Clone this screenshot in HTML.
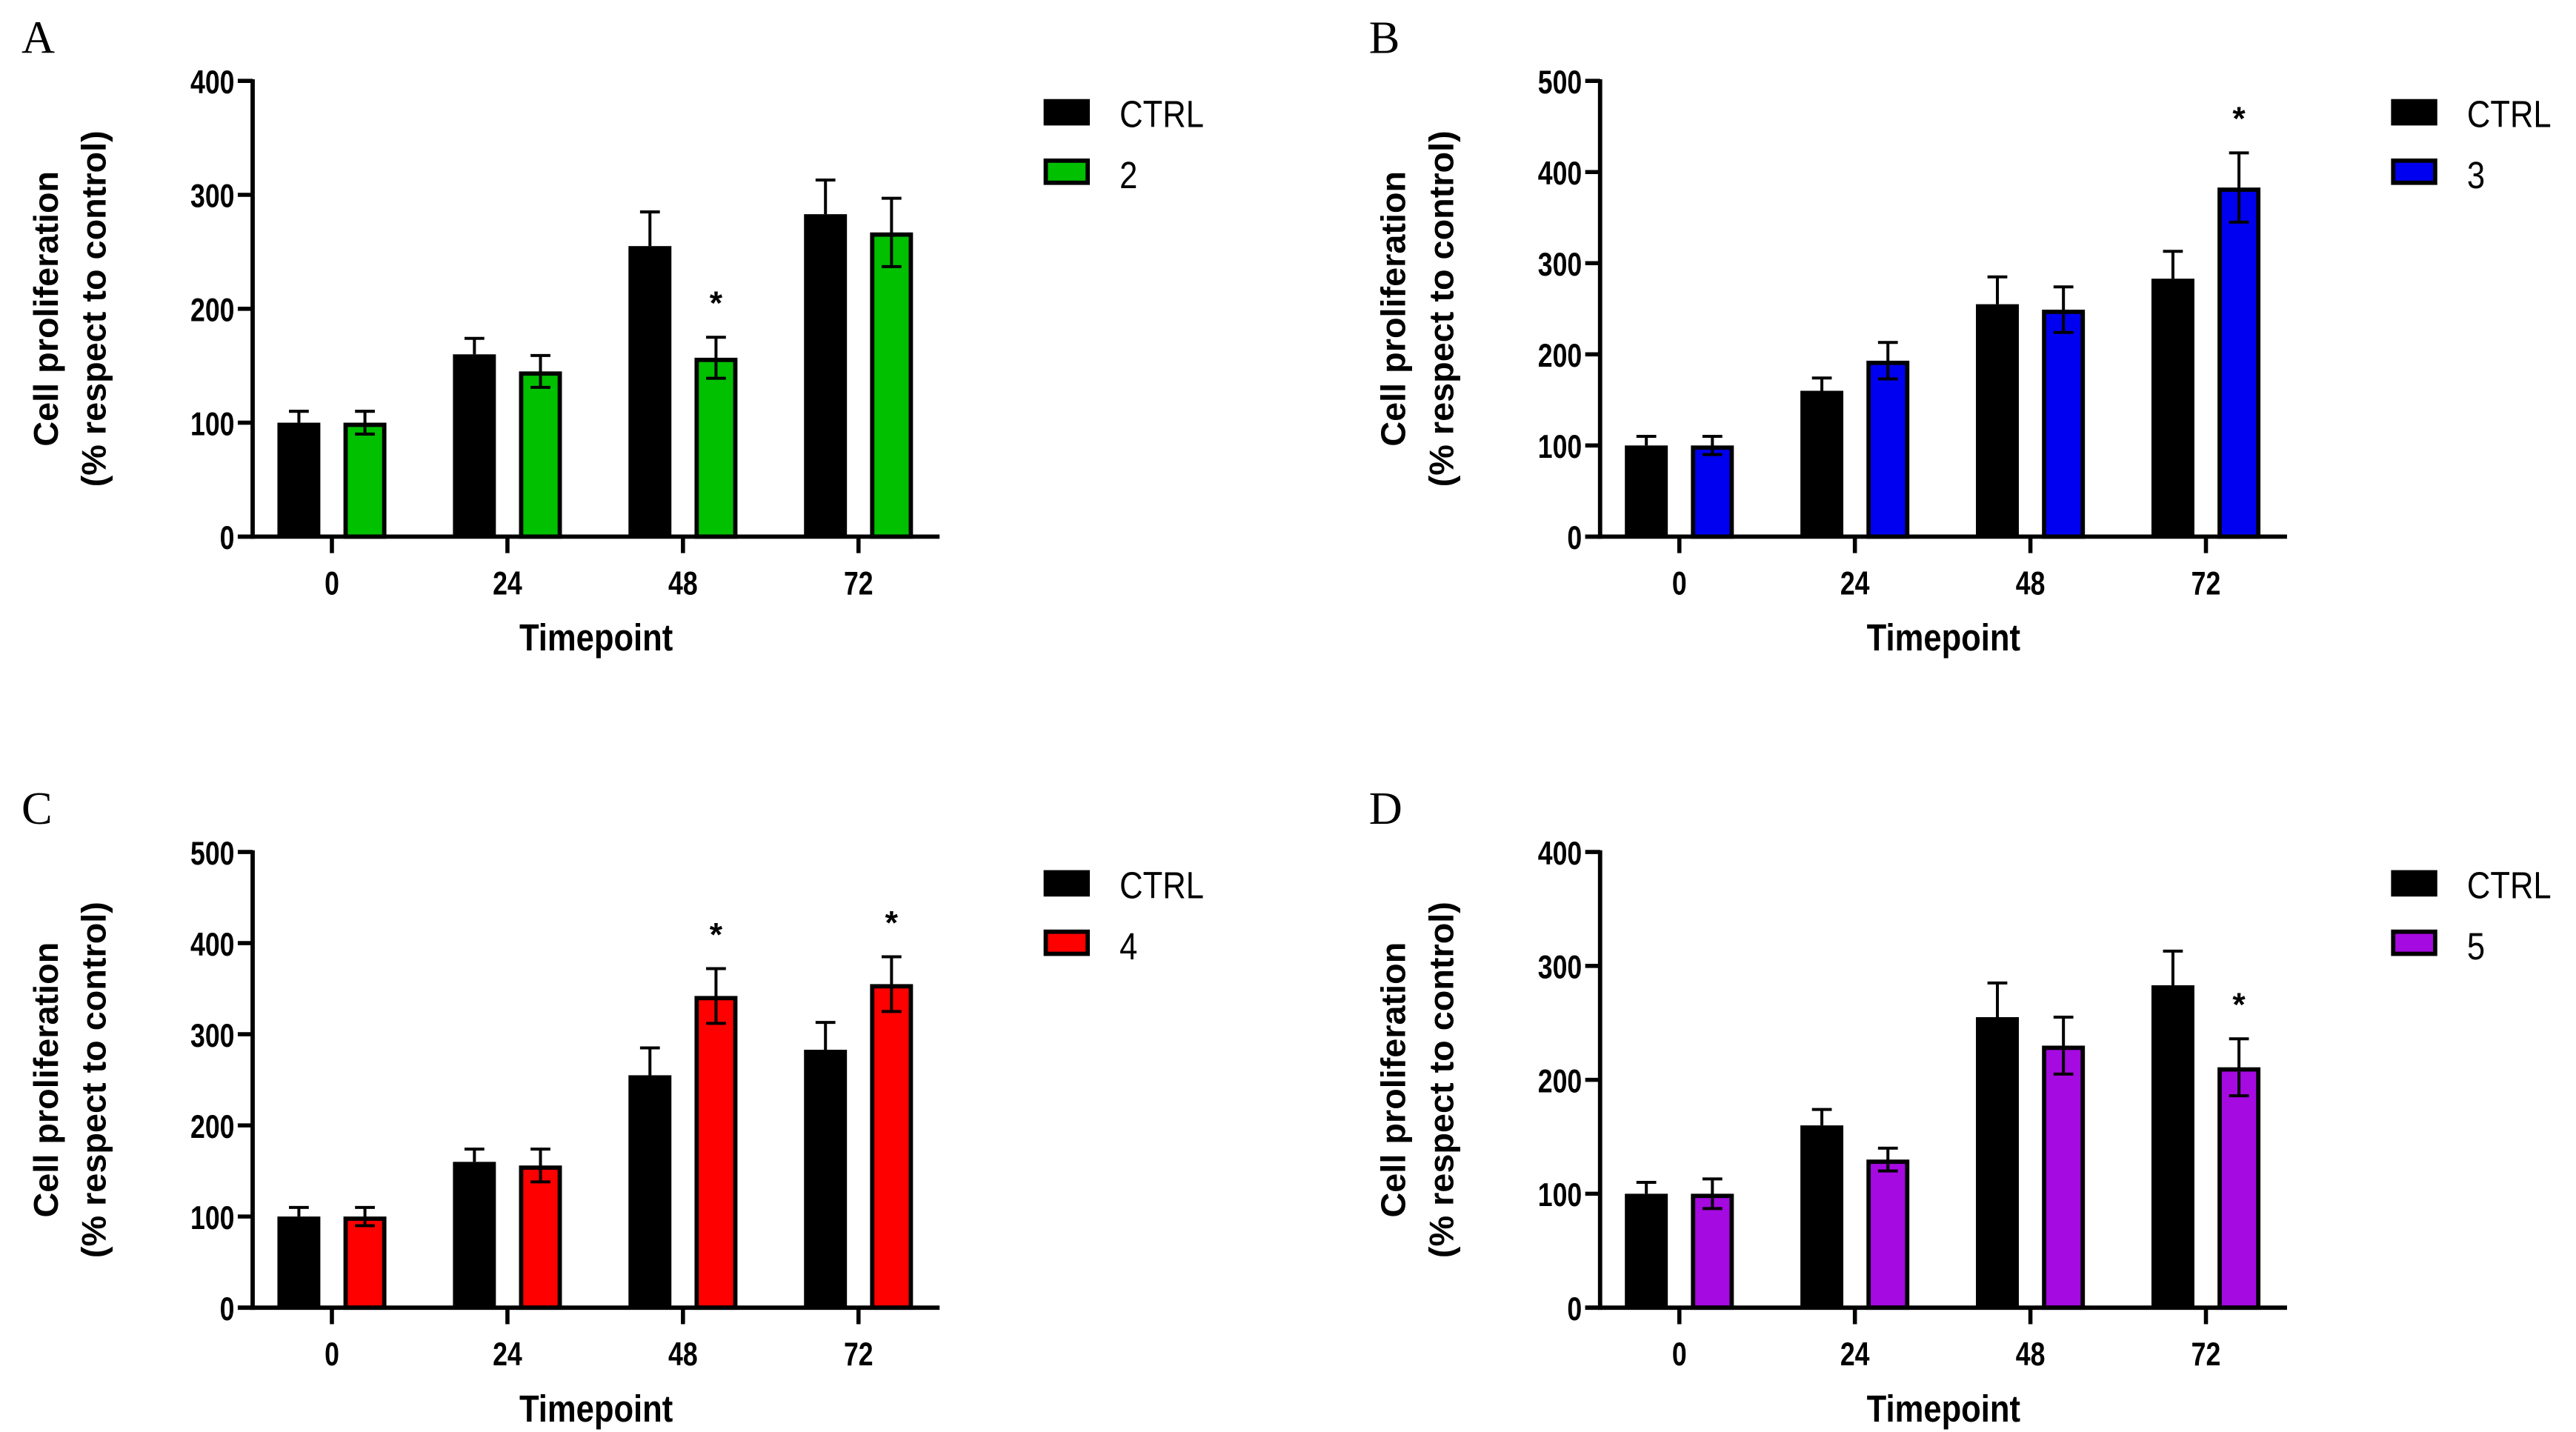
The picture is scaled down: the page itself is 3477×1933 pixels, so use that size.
<!DOCTYPE html>
<html><head><meta charset="utf-8"><style>
html,body{margin:0;padding:0;background:#fff;}
svg{display:block;}
.tick{font-family:"Liberation Sans",sans-serif;font-weight:bold;font-size:20px;}
.ytitle{font-family:"Liberation Sans",sans-serif;font-weight:bold;font-size:21px;}
.xtitle{font-family:"Liberation Sans",sans-serif;font-weight:bold;font-size:23px;}
.leg{font-family:"Liberation Sans",sans-serif;font-size:23px;}
.plabel{font-family:"Liberation Serif",serif;font-size:28px;}
</style></head><body>
<svg id="fig" width="3477" height="1933" viewBox="0 0 1560 867.3" preserveAspectRatio="none" xmlns="http://www.w3.org/2000/svg"></svg>
<script>
const categories = ["0","24","48","72"];
const ctrlValues = [100,160,255,283];
const ctrlErrors = [10,14,30,30];
const treatA = [100,145,157,267];
const errA = [10,14,18,30];
const treatB = [100,193,249,383];
const errB = [10,20,25,38];
const treatC = [100,156,342,355];
const errC = [10,18,30,30];
const treatD = [100,130,230,211];
const errD = [13,10,25,25];
const starsA = [2];
const starsB = [3];
const starsC = [2,3];
const starsD = [3];
const ticksA = [0,100,200,300,400];
const ticksB = [0,100,200,300,400,500];

const NS="http://www.w3.org/2000/svg";
const svg=document.getElementById('fig');
function mk(tag,attrs,parent,text){const e=document.createElementNS(NS,tag);for(const k in attrs)e.setAttribute(k,attrs[k]);if(text!==undefined)e.textContent=text;(parent||svg).appendChild(e);return e;}
function ntext(x,y,anchor,cls,parent,txt,sx){return mk('text',{transform:`translate(${x},${y}) scale(${sx||0.8},1)`,'text-anchor':anchor,class:cls},parent,txt);}

const panels=[
 {id:'a',letter:'A',ox:0,oy:0,vals:treatA,errs:errA,stars:starsA,ticks:ticksA,color:'#00c000',name:'2'},
 {id:'b',letter:'B',ox:816,oy:0,vals:treatB,errs:errB,stars:starsB,ticks:ticksB,color:'#0000f0',name:'3'},
 {id:'c',letter:'C',ox:0,oy:467,vals:treatC,errs:errC,stars:starsC,ticks:ticksB,color:'#ff0000',name:'4'},
 {id:'d',letter:'D',ox:816,oy:467,vals:treatD,errs:errD,stars:starsD,ticks:ticksA,color:'#a50ae0',name:'5'}
];
panels.forEach(p=>{
 const g=mk('g',{transform:`translate(${p.ox},${p.oy})`});
 
 
 const x0=153,x1=569,yTop=49,yZero=325;
 const ymax=p.ticks[p.ticks.length-1];
 const y=v=>yZero-(v/ymax)*(yZero-yTop);
 const xc=i=>201+106.3*i;
 const lab=mk('text',{x:13,y:32,class:'plabel'},g,p.letter);
 
 
 categories.forEach((c,i)=>{
  const cx=xc(i);
  const yb=y(ctrlValues[i]);
  const r1=mk('rect',{x:cx-33,y:yb,width:26,height:yZero-yb,fill:'#000'},g);
  
  
  const ye=y(ctrlValues[i]+ctrlErrors[i]);
  mk('line',{x1:cx-20,x2:cx-20,y1:yb,y2:ye,stroke:'#000','stroke-width':1.8},g);
  mk('line',{x1:cx-26,x2:cx-14,y1:ye,y2:ye,stroke:'#000','stroke-width':1.8},g);
  const yt=y(p.vals[i]);
  const r2=mk('rect',{x:cx+7+1.3,y:yt+1.3,width:23.4,height:yZero-yt-1.3,fill:p.color,stroke:'#000','stroke-width':2.6},g);
  
  
  const yu=y(p.vals[i]+p.errs[i]),yd=y(p.vals[i]-p.errs[i]);
  mk('line',{x1:cx+20,x2:cx+20,y1:yd,y2:yu,stroke:'#000','stroke-width':1.8},g);
  mk('line',{x1:cx+14,x2:cx+26,y1:yu,y2:yu,stroke:'#000','stroke-width':1.8},g);
  mk('line',{x1:cx+14,x2:cx+26,y1:yd,y2:yd,stroke:'#000','stroke-width':1.8},g);
  mk('line',{x1:cx,x2:cx,y1:yZero,y2:yZero+10,stroke:'#000','stroke-width':2.5},g);
  const tl=ntext(cx,360,'middle','tick',g,c);
  
  
 });
 p.stars.forEach(i=>{
  const s=mk('text',{x:xc(i)+20,y:y(p.vals[i]+p.errs[i])-14,'text-anchor':'middle',class:'tick','font-size':'20'},g,'*');
  
  
 });
 const ya=mk('line',{x1:x0,x2:x0,y1:yTop-1,y2:yZero+1.3,stroke:'#000','stroke-width':2.6},g);
 
 
 const xa=mk('line',{x1:x0-9,x2:x1,y1:yZero,y2:yZero,stroke:'#000','stroke-width':2.6},g);
 
 
 p.ticks.forEach(t=>{
  mk('line',{x1:x0-9,x2:x0,y1:y(t),y2:y(t),stroke:'#000','stroke-width':2.5},g);
  const tl=ntext(x0-11,y(t)+7.5,'end','tick',g,String(t));
  
  
 });
 const yt=mk('text',{transform:'translate(35,187) rotate(-90)','text-anchor':'middle',class:'ytitle'},g);
 
 
 mk('tspan',{x:0,y:0},yt,'Cell proliferation');
 mk('tspan',{x:0,y:29},yt,'(% respect to control)');
 const xt=ntext(361,394,'middle','xtitle',g,'Timepoint',0.85);
 
 
 const l1=mk('g',{},g);
 
 
 mk('rect',{x:632,y:60,width:28,height:16,fill:'#000'},l1);
 ntext(678,77,'start','leg',l1,'CTRL',0.85);
 const l2=mk('g',{},g);
 
 
 mk('rect',{x:633.3,y:97.3,width:25.4,height:13.4,fill:p.color,stroke:'#000','stroke-width':2.6},l2);
 ntext(678,114,'start','leg',l2,p.name,0.85);
});
</script>
</body></html>
